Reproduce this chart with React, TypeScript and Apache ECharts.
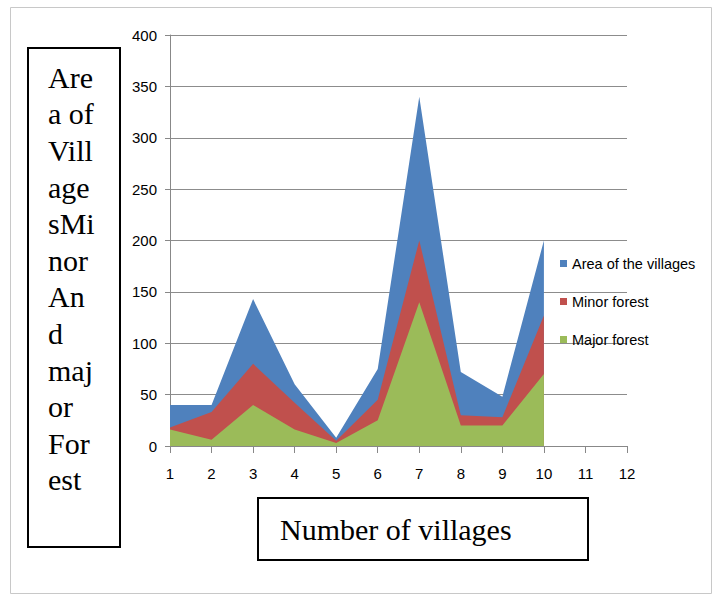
import React, { useEffect, useRef } from "react";
import * as echarts from "echarts";

const categories = ["1", "2", "3", "4", "5", "6", "7", "8", "9", "10", "11", "12"];
const areaOfVillages = [40, 40, 143, 60, 8, 75, 340, 72, 48, 200, null, null];
const minorForest = [18, 33, 80, 42, 5, 45, 200, 30, 28, 127, null, null];
const majorForest = [16, 6, 40, 16, 3, 25, 140, 20, 20, 70, null, null];
const seriesNames = ["Area of the villages", "Minor forest", "Major forest"];
const seriesColors = ["#4F81BD", "#C0504D", "#9BBB59"];
const yLabelLines = ["Are", "a of", "Vill", "age", "sMi", "nor", "An", "d", "maj", "or", "For", "est"];
const xTitle = "Number of villages";

const sans = "'Liberation Sans', Arial, sans-serif";
const serif = "'Liberation Serif', 'Times New Roman', serif";

export default function App() {
  const ref = useRef<HTMLDivElement>(null);
  useEffect(() => {
    if (!ref.current) return;
    const chart = echarts.init(ref.current, undefined, { renderer: "svg" });
    const data = [areaOfVillages, minorForest, majorForest];
    chart.setOption({
      animation: false,
      backgroundColor: "#ffffff",
      grid: { left: 170, right: 88, top: 35, bottom: 149, containLabel: false },
      legend: {
        orient: "vertical",
        left: 560,
        top: 256,
        padding: 0,
        itemWidth: 7,
        itemHeight: 7,
        itemGap: 23,
        icon: "rect",
        data: seriesNames,
        textStyle: { fontFamily: sans, fontSize: 14.5, color: "#000" },
      },
      xAxis: {
        type: "category",
        data: categories,
        boundaryGap: false,
        axisLine: { show: true, lineStyle: { color: "#888", width: 1 } },
        axisTick: { show: true, length: 7, lineStyle: { color: "#888" } },
        axisLabel: { margin: 20, fontFamily: sans, fontSize: 15, color: "#000", interval: 0 },
        splitLine: { show: false },
      },
      yAxis: {
        type: "value",
        min: 0,
        max: 400,
        interval: 50,
        axisLine: { show: true, lineStyle: { color: "#888", width: 1 } },
        axisTick: { show: true, length: 5, lineStyle: { color: "#888" } },
        axisLabel: { margin: 13, fontFamily: sans, fontSize: 15, color: "#000" },
        splitLine: { show: true, lineStyle: { color: "#8c8c8c", width: 1 } },
      },
      series: data.map((d, i) => ({
        name: seriesNames[i],
        type: "line",
        data: d,
        color: seriesColors[i],
        symbol: "none",
        showSymbol: false,
        lineStyle: { width: 0 },
        areaStyle: { color: seriesColors[i], opacity: 1 },
        z: 2 + i,
      })),
      graphic: [
        {
          type: "rect",
          shape: { x: 10.5, y: 7.5, width: 701, height: 586 },
          style: { fill: "none", stroke: "#c8c8c8", lineWidth: 1 },
          silent: true,
        },
        {
          type: "rect",
          shape: { x: 28, y: 48, width: 92, height: 499 },
          style: { fill: "none", stroke: "#000", lineWidth: 2 },
          silent: true,
        },
        {
          type: "text",
          x: 48,
          y: 59,
          style: {
            text: yLabelLines.join("\n"),
            font: `30px ${serif}`,
            lineHeight: 36.6,
            fill: "#000",
            align: "left",
            verticalAlign: "top",
          },
          silent: true,
        },
        {
          type: "rect",
          shape: { x: 258, y: 498, width: 330, height: 62 },
          style: { fill: "none", stroke: "#000", lineWidth: 2 },
          silent: true,
        },
        {
          type: "text",
          x: 280,
          y: 529,
          style: {
            text: xTitle,
            font: `30px ${serif}`,
            fill: "#000",
            align: "left",
            verticalAlign: "middle",
          },
          silent: true,
        },
      ],
    });
    return () => chart.dispose();
  }, []);
  return (
    <div
      ref={ref}
      style={{ position: "fixed", left: 0, top: 0, width: 715, height: 595, background: "#fff" }}
    />
  );
}
